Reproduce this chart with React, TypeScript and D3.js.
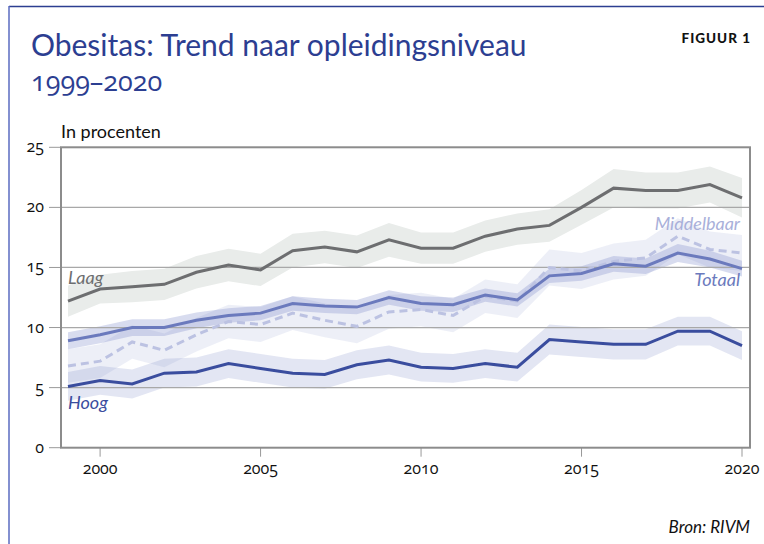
import React from "react";
import * as d3 from "d3";

const years = [1999,2000,2001,2002,2003,2004,2005,2006,2007,2008,2009,2010,2011,2012,2013,2014,2015,2016,2017,2018,2019,2020];
const laag = [12.2,13.2,13.4,13.6,14.6,15.2,14.8,16.4,16.7,16.3,17.3,16.6,16.6,17.6,18.2,18.5,20.0,21.6,21.4,21.4,21.9,20.8];
const laagMargin = [1.3,1.2,1.3,1.3,1.35,1.35,1.35,1.4,1.35,1.35,1.4,1.3,1.3,1.3,1.3,1.35,1.45,1.6,1.5,1.5,1.5,1.65];
const totaal = [8.9,9.4,10.0,10.0,10.6,11.0,11.2,12.0,11.8,11.7,12.5,12.0,11.9,12.7,12.3,14.3,14.5,15.3,15.1,16.2,15.7,14.9];
const totaalMargin = [0.7,0.7,0.7,0.7,0.65,0.6,0.6,0.6,0.6,0.6,0.6,0.6,0.6,0.55,0.55,0.6,0.6,0.65,0.65,0.75,0.7,0.65];
const middelbaar = [6.8,7.2,8.8,8.1,9.4,10.5,10.25,11.2,10.6,10.1,11.3,11.5,11.0,12.6,12.2,15.0,14.7,15.5,15.8,17.6,16.5,16.2];
const middelbaarMargin = [1.4,1.4,1.4,1.4,1.4,1.4,1.45,1.4,1.4,1.4,1.4,1.4,1.4,1.4,1.4,1.5,1.5,1.5,1.5,1.5,1.5,1.5];
const hoog = [5.1,5.6,5.3,6.2,6.3,7.0,6.6,6.2,6.1,6.9,7.3,6.7,6.6,7.0,6.7,9.0,8.8,8.6,8.6,9.7,9.7,8.5];
const hoogMargin = [1.2,1.2,1.2,1.2,1.2,1.2,1.2,1.2,1.2,1.2,1.2,1.2,1.2,1.2,1.2,1.25,1.25,1.25,1.25,1.2,1.2,1.2];
const yTicks = [0,5,10,15,20,25];
const xTicks = [2000,2005,2010,2015,2020];

const W = 764, H = 544;
const x = d3.scaleLinear().domain([1999, 2020]).range([68, 742]);
const y = d3.scaleLinear().domain([0, 25]).range([447.7, 147.3]);
const left = 61, right = 750;

type Row = { yr: number; v: number; m: number };
const rows = (vals: number[], marg: number[]): Row[] => years.map((yr, i) => ({ yr, v: vals[i], m: marg[i] }));

const line = d3.line<Row>().x(d => x(d.yr)).y(d => y(d.v));
const area = d3.area<Row>().x(d => x(d.yr)).y0(d => y(d.v - d.m)).y1(d => y(d.v + d.m));

const font = "Lato, 'Open Sans', sans-serif";
const numFont = "'Open Sans', Lato, sans-serif";
const onum: React.CSSProperties = { fontVariantNumeric: "oldstyle-nums", fontFeatureSettings: "'onum' 1" };

export default function App() {
  const L = rows(laag, laagMargin);
  const T = rows(totaal, totaalMargin);
  const M = rows(middelbaar, middelbaarMargin);
  const Hg = rows(hoog, hoogMargin);
  return (
    <svg width={W} height={H} style={{ position: "absolute", left: 0, top: 0, background: "#fff" }}>
      {/* frame */}
      <line x1={9} x2={764} y1={6.5} y2={6.5} stroke="#2c3e91" strokeWidth={1.5} />
      <line x1={9} x2={9} y1={6} y2={544} stroke="#5a6bc0" strokeWidth={1.5} />
      <text x={31} y={56} fill="#2c3e91" fontFamily={font} fontSize={30}>Obesitas: Trend naar opleidingsniveau</text>
      <text x={31} y={91} fill="#2c3e91" fontFamily={numFont} fontSize={27} style={onum}>1999–2020</text>
      <text x={751} y={43} textAnchor="end" fill="#111" fontFamily={font} fontWeight={900} fontSize={13.5} letterSpacing={1}>FIGUUR 1</text>
      <text x={61} y={138} fill="#111" fontFamily={font} fontSize={18}>In procenten</text>

      {/* bands */}
      <path d={area(L) || ""} fill="#e9ecea" />
      <path d={area(M) || ""} fill="#7382c4" fillOpacity={0.13} />
      <path d={area(Hg) || ""} fill="#7382c4" fillOpacity={0.2} />
      <path d={area(T) || ""} fill="#7382c4" fillOpacity={0.28} />

      {/* grid */}
      {yTicks.filter(t => t > 0 && t < 25).map(t => (
        <line key={t} x1={left} x2={right} y1={y(t)} y2={y(t)} stroke="#a8a8a8" strokeWidth={1.3} />
      ))}
      {/* y ticks */}
      {yTicks.map(t => (
        <g key={t}>
          <line x1={49} x2={left} y1={y(t)} y2={y(t)} stroke="#999" strokeWidth={1} />
          <text x={44} y={y(t) + 5} textAnchor="end" fill="#111" fontFamily={numFont} fontSize={16} style={onum}>{t}</text>
        </g>
      ))}
      {/* x ticks */}
      {xTicks.map(t => (
        <g key={t}>
          <line x1={x(t)} x2={x(t)} y1={y(0)} y2={y(0) + 9} stroke="#999" strokeWidth={1} />
          <text x={x(t)} y={474} textAnchor="middle" fill="#111" fontFamily={numFont} fontSize={16} style={onum}>{t}</text>
        </g>
      ))}
      {/* box */}
      <rect x={left} y={y(25)} width={right - left} height={y(0) - y(25)} fill="none" stroke="#8c8c8c" strokeWidth={2} />

      {/* lines */}
      <path d={line(L) || ""} fill="none" stroke="#6d6e70" strokeWidth={3} />
      <path d={line(M) || ""} fill="none" stroke="#bcc2e2" strokeWidth={3} strokeDasharray="8 5" />
      <path d={line(T) || ""} fill="none" stroke="#6b7abd" strokeWidth={3} />
      <path d={line(Hg) || ""} fill="none" stroke="#3a4d9e" strokeWidth={3} />

      {/* labels */}
      <text x={68} y={284} fill="#6d6e70" fontFamily={font} fontStyle="italic" fontSize={18}>Laag</text>
      <text x={68} y={409} fill="#3a4d9e" fontFamily={font} fontStyle="italic" fontSize={18}>Hoog</text>
      <text x={740} y={230} textAnchor="end" fill="#a9b0da" fontFamily={font} fontStyle="italic" fontSize={18}>Middelbaar</text>
      <text x={740} y={286} textAnchor="end" fill="#6b7abd" fontFamily={font} fontStyle="italic" fontSize={18}>Totaal</text>
      <text x={750} y={533} textAnchor="end" fill="#111" fontFamily={font} fontStyle="italic" fontSize={17}>Bron: RIVM</text>
    </svg>
  );
}
